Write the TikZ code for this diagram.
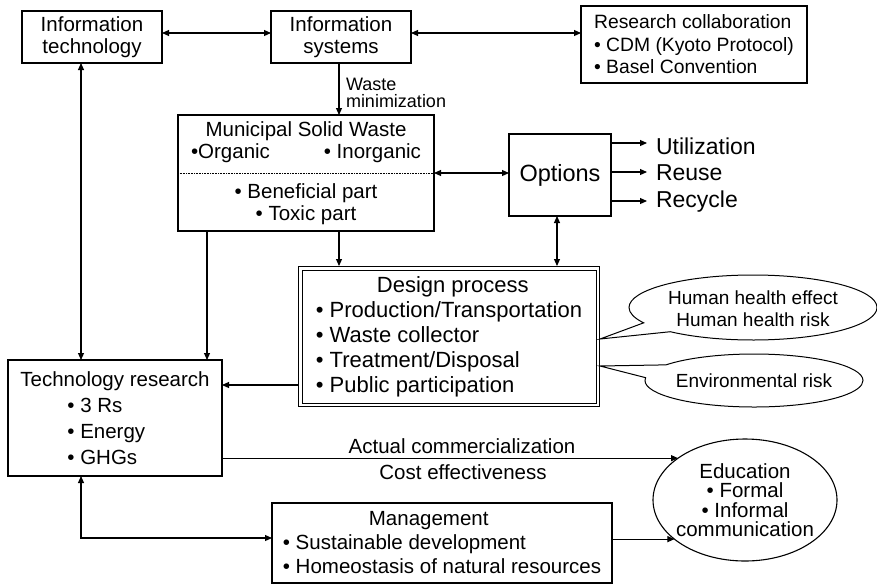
\documentclass[tikz,border=0pt]{standalone}
\usepackage{fontspec}
\setmainfont{Liberation Sans}
\usetikzlibrary{arrows.meta,shapes.geometric,shapes.callouts}
\newcommand{\fsz}[2]{\fontsize{#1}{#2}\selectfont}
\begin{document}
\begin{tikzpicture}[x=1pt,y=-1pt,
  every node/.style={inner sep=0pt, outer sep=0pt},
  box/.style={draw, line width=1.1pt, align=center},
  conn/.style={line width=1.1pt},
  arr/.style={conn, -{Triangle[length=7pt,width=6pt]}},
  darr/.style={conn, {Triangle[length=7pt,width=6pt]}-{Triangle[length=7pt,width=6pt]}},
  bubble/.style={draw, line width=1pt, fill=white},
]
\useasboundingbox (0,0) rectangle (877,584);

% boxes
\node[box, minimum width=140pt, minimum height=52pt, font=\fsz{20.5}{22}] (IT) at (92,37) {Information\\technology};
\node[box, minimum width=140pt, minimum height=52pt, font=\fsz{20.5}{22}] (IS) at (341,37) {Information\\systems};
\node[box, minimum width=226pt, minimum height=77pt, align=left, font=\fsz{19.3}{22.5}] (RC) at (694,44.5) {Research collaboration\\• CDM (Kyoto Protocol)\\• Basel Convention};
\node[box, minimum width=256pt, minimum height=116pt, font=\fsz{20.5}{22.5}] (MSW) at (306,173) {Municipal Solid Waste\\\makebox[230pt]{•Organic\hfill• Inorganic}\\[17pt]• Beneficial part\\• Toxic part};
\draw[densely dotted, line width=0.6pt] (MSW.west) -- (MSW.east);
\node[box, minimum width=102pt, minimum height=82pt, font=\fsz{23.5}{23.5}] (Opt) at (560,175) {Options};
\node[anchor=base west, font=\fsz{23}{23}] (util) at (656,154) {Utilization};
\node[anchor=base west, font=\fsz{23}{23}] (reuse) at (656,180) {Reuse};
\node[anchor=base west, font=\fsz{23}{23}] (recyc) at (656,207) {Recycle};
\node[draw, double, double distance=2.5pt, line width=1pt, outer sep=2.25pt, minimum width=297.5pt, minimum height=136.5pt, align=left, font=\fsz{22}{25}] (Design) at (449,336.5) {\hspace*{61pt}Design process\\• Production/Transportation\\• Waste collector\\• Treatment/Disposal\\• Public participation};
\node[box, minimum width=214pt, minimum height=116pt, align=left, font=\fsz{20.5}{26}] (Tech) at (115,418) {Technology research\\\hspace*{47pt}• 3 Rs\\\hspace*{47pt}• Energy\\\hspace*{47pt}• GHGs};
\node[box, minimum width=340pt, minimum height=80pt, align=left, font=\fsz{20.5}{24}] (Mgmt) at (442,543) {\hspace*{86pt}Management\\• Sustainable development\\• Homeostasis of natural resources};
\node[draw, ellipse, line width=1.1pt, minimum width=184pt, minimum height=122pt,
  label={[align=center, font=\fsz{20.5}{19.5}]center:Education\\• Formal\\• Informal\\communication}] (Edu) at (745,500) {};

% callouts
\node[bubble, ellipse callout, minimum width=248pt, minimum height=65pt,
  callout absolute pointer={([yshift=-2.5pt]Design.east)}, callout pointer arc=20,
  label={[align=center, font=\fsz{19}{22}, yshift=-1.5pt]center:Human health effect\\Human health risk}] (HH) at (753,307.5) {};
\node[bubble, ellipse callout, minimum width=218pt, minimum height=53pt,
  callout absolute pointer={([yshift=-29.5pt]Design.east)}, callout pointer arc=30,
  label={[font=\fsz{19}{22}]center:Environmental risk}] (Env) at (754,380.5) {};

% connectors
\draw[darr] ([yshift=4pt]IT.east) -- ([yshift=4pt]IT.east -| IS.west);
\draw[darr] ([yshift=4pt]IS.east) -- ([yshift=4pt]IS.east -| RC.west);
\draw[arr] ([xshift=-2pt]IS.south) -- ([xshift=-2pt]IS.south |- MSW.north)
  node[midway, anchor=west, xshift=7pt, yshift=-4pt, align=left, font=\fsz{18}{17}] (wm) {Waste\\minimization};
\draw[darr] (MSW.east) -- (MSW.east -| Opt.west);
\draw[arr, shorten >=9pt] ([yshift=32pt]Opt.east) -- ([yshift=32pt]Opt.east -| util.west);
\draw[arr, shorten >=9pt] ([yshift=3pt]Opt.east) -- ([yshift=3pt]Opt.east -| reuse.west);
\draw[arr, shorten >=9pt] ([yshift=-26pt]Opt.east) -- ([yshift=-26pt]Opt.east -| recyc.west);
\draw[darr] ([xshift=-3pt]Opt.south) -- ([xshift=-3pt]Opt.south |- Design.north);
\draw[arr] ([xshift=33pt]MSW.south) -- ([xshift=33pt]MSW.south |- Design.north);
\draw[arr] ([xshift=-99pt]MSW.south) -- ([xshift=-99pt]MSW.south |- Tech.north);
\draw[darr] ([xshift=-11pt]IT.south) -- ([xshift=-11pt]IT.south |- Tech.north);
\draw[arr] ([yshift=-48.5pt]Design.west) -- ([yshift=-48.5pt]Design.west -| Tech.east);
\draw[arr] (Tech.east |- Edu.148) -- (Edu.148);
\node[font=\fsz{20.5}{20.5}] (ac) at (462,446) {Actual commercialization};
\node[font=\fsz{20.5}{20.5}] (ce) at (463,472) {Cost effectiveness};
\draw[darr] ([xshift=-34pt]Tech.south) |- ([yshift=5pt]Mgmt.west);
\draw[arr] (Mgmt.east |- Edu.209) -- (Edu.209);
\end{tikzpicture}
\end{document}
